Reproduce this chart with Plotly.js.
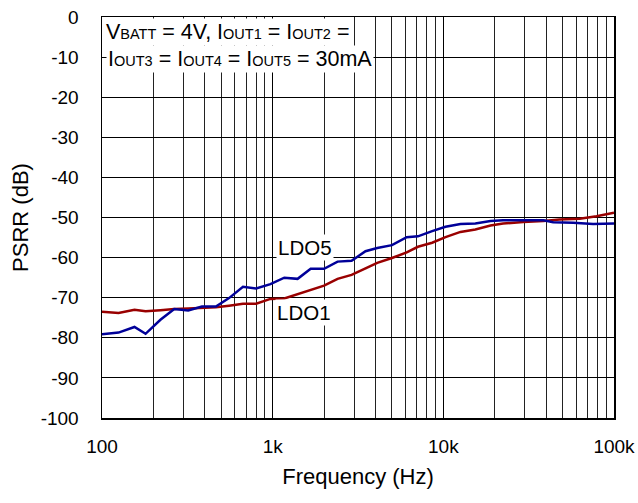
<!DOCTYPE html>
<html>
<head>
<meta charset="utf-8">
<script src="https://cdn.plot.ly/plotly-3.0.1.min.js"></script>
<style>html,body{margin:0;padding:0;background:#fff;}#chart{width:638px;height:503px;}</style>
</head>
<body>
<div id="chart"></div>
<script>
// LDO5 (blue) data
const ldo5Freq = [100, 125, 155, 180, 220, 265, 320, 385, 465, 555, 670, 800, 970, 1170, 1400, 1670, 2000, 2400, 2900, 3500, 4100, 5000, 6100, 7100, 8600, 10300, 12600, 15400, 18900, 22400, 29400, 38600, 44000, 57600, 75500, 100000];
const ldo5Psrr = [-79.1, -78.7, -77.3, -79.0, -75.5, -72.8, -73.2, -72.2, -72.2, -70.1, -67.3, -67.7, -66.6, -65.0, -65.3, -62.8, -62.8, -61.0, -60.8, -58.4, -57.6, -56.9, -54.9, -54.7, -53.4, -52.3, -51.6, -51.5, -50.9, -50.7, -50.7, -50.7, -51.2, -51.3, -51.6, -51.5];
// LDO1 (red) data
const ldo1Freq = [100, 125, 155, 180, 220, 265, 320, 385, 465, 555, 670, 800, 970, 1170, 1400, 1670, 2000, 2400, 2900, 3500, 4100, 5000, 6100, 7100, 8600, 10300, 12600, 15400, 18900, 22400, 29400, 38600, 48000, 63000, 79000, 100000];
const ldo1Psrr = [-73.5, -73.8, -73.0, -73.4, -73.1, -72.8, -72.7, -72.6, -72.4, -72.0, -71.5, -71.5, -70.3, -70.2, -69.1, -68.0, -67.0, -65.3, -64.3, -62.7, -61.3, -60.1, -58.7, -57.3, -56.3, -54.9, -53.6, -53.0, -52.0, -51.5, -51.1, -50.9, -50.5, -50.3, -49.7, -48.8];

// axis ticks
const xTickVals = [100, 1000, 10000, 100000];
const xTickText = ["100", "1k", "10k", "100k"];
const xMinorVals = [];
[100, 1000, 10000].forEach(d => { for (let m = 2; m <= 9; m++) xMinorVals.push(d * m); });
const yTickVals = [0, -10, -20, -30, -40, -50, -60, -70, -80, -90, -100];
const yTickText = ["0", "-10", "-20", "-30", "-40", "-50", "-60", "-70", "-80", "-90", "-100"];

// curve labels
const labelText = ["LDO5", "LDO1"];
const labelFreq = [1544, 1530];
const labelY = [-57.6, -73.7];

const FONT = "Liberation Sans, Arial, sans-serif";

const traces = [
  {x: ldo1Freq, y: ldo1Psrr, type: "scatter", mode: "lines", name: "LDO1",
   line: {color: "#990000", width: 2.5}},
  {x: ldo5Freq, y: ldo5Psrr, type: "scatter", mode: "lines", name: "LDO5",
   line: {color: "#000099", width: 2.5}}
];

const small = s => '<span style="font-size:14.5px">' + s + '</span>';

const annotations = [
  {xref: "paper", yref: "paper", x: 0, y: 0.962, xanchor: "left", yanchor: "middle", xshift: 2,
   text: "V" + small("BATT") + " = 4V, I" + small("OUT1") + " = I" + small("OUT2") + " =",
   showarrow: false, bgcolor: "#ffffff", borderpad: 1, font: {family: FONT, size: 21.5, color: "#000"}},
  {xref: "paper", yref: "paper", x: 0, y: 0.8965, xanchor: "left", yanchor: "middle", xshift: 4,
   text: "I" + small("OUT3") + " = I" + small("OUT4") + " = I" + small("OUT5") + " = 30mA",
   showarrow: false, bgcolor: "#ffffff", borderpad: 1, font: {family: FONT, size: 21.5, color: "#000"}}
];
labelText.forEach((t, i) => {
  annotations.push({x: Math.log10(labelFreq[i]), y: labelY[i], xref: "x", yref: "y", text: t,
    showarrow: false, bgcolor: "#ffffff", borderpad: 1, font: {family: FONT, size: 20.5, color: "#000"}});
});

const layout = {
  width: 638, height: 503,
  margin: {l: 101.5, r: 24, t: 17, b: 85, pad: 0},
  paper_bgcolor: "#ffffff", plot_bgcolor: "#ffffff",
  showlegend: false,
  font: {family: FONT, size: 19, color: "#000"},
  xaxis: {
    type: "log", range: [2, 5], tickmode: "array", tickvals: xTickVals, ticktext: xTickText,
    showgrid: true, gridcolor: "#000", gridwidth: 1.3,
    minor: {tickmode: "array", tickvals: xMinorVals, showgrid: true, gridcolor: "#222", gridwidth: 1, ticks: ""},
    showline: true, mirror: true, linecolor: "#000", linewidth: 1.5,
    ticks: "", ticklabelstandoff: 11, zeroline: false,
    title: {text: "Frequency (Hz)", font: {family: FONT, size: 22}, standoff: 12}
  },
  yaxis: {
    range: [-100, 0], tickmode: "array", tickvals: yTickVals, ticktext: yTickText,
    showgrid: true, gridcolor: "#000", gridwidth: 1,
    showline: true, mirror: true, linecolor: "#000", linewidth: 1.5,
    ticks: "", ticklabelstandoff: 18, zeroline: false,
    title: {text: "PSRR (dB)", font: {family: FONT, size: 22}, standoff: 6}
  },
  annotations: annotations
};

Plotly.newPlot("chart", traces, layout, {staticPlot: true, displayModeBar: false});
</script>
</body>
</html>
